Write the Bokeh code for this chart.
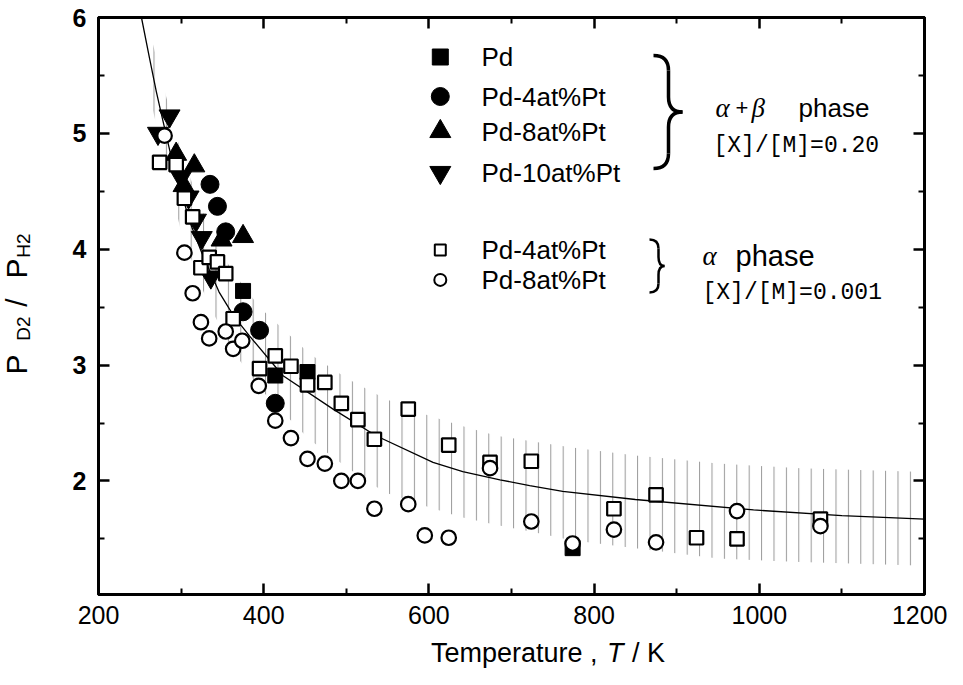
from math import pi
from bokeh.plotting import figure
from bokeh.models import Range1d, LinearAxis, FixedTicker, Label
from bokeh.layouts import row, column
from bokeh.embed import file_html
from bokeh.resources import INLINE

# ---------------- data ----------------
# alpha+beta phase, [X]/[M]=0.20 (filled symbols)
T_pd = [375, 414, 453, 774]
P_pd = [3.64, 2.91, 2.94, 1.42]

T_pd4 = [335, 344, 354, 375, 395, 414]
P_pd4 = [4.56, 4.37, 4.15, 3.46, 3.30, 2.67]

T_pd8 = [294, 303, 316, 349, 375]
P_pd8 = [4.82, 4.55, 4.72, 4.08, 4.11]

T_pd10 = [272, 286, 300, 309, 318, 325, 336]
P_pd10 = [5.00, 5.15, 4.62, 4.45, 4.25, 4.10, 3.76]

# alpha phase, [X]/[M]=0.001 (open symbols)
T_a4 = [274, 294, 304, 314, 324, 334, 344, 354, 363, 395, 414, 433, 453, 474,
        494, 514, 534, 575, 624, 674, 724, 824, 875, 924, 973, 1074]
P_a4 = [4.75, 4.73, 4.44, 4.28, 3.84, 3.93, 3.89, 3.79, 3.40, 2.97, 3.08, 2.99,
        2.83, 2.85, 2.67, 2.53, 2.36, 2.62, 2.31, 2.16, 2.17, 1.76, 1.88, 1.51,
        1.50, 1.67]

T_a8 = [280, 304, 314, 324, 334, 354, 363, 374, 394, 414, 433, 453, 474, 494,
        514, 534, 575, 595, 624, 674, 724, 774, 824, 875, 973, 1074]
P_a8 = [4.98, 3.97, 3.62, 3.37, 3.23, 3.29, 3.14, 3.21, 2.82, 2.52, 2.37, 2.19,
        2.15, 2.00, 2.00, 1.76, 1.80, 1.53, 1.51, 2.11, 1.65, 1.46, 1.58, 1.47,
        1.74, 1.61]

# calculated curve
T_fit = [252, 262, 270, 276, 288, 300, 312, 325, 346, 364, 383, 423, 484, 536,
         605, 641, 686, 722, 762, 850, 993, 1100, 1200]
P_fit = [6.00, 5.64, 5.36, 5.17, 4.80, 4.49, 4.21, 3.97, 3.63, 3.42, 3.25, 2.91,
         2.62, 2.39, 2.16, 2.08, 2.01, 1.96, 1.91, 1.84, 1.75, 1.70, 1.67]

# hatched uncertainty band (upper / lower envelope)
T_band = [258, 277, 300, 330, 360, 395, 455, 502, 547, 593, 637, 682, 726, 771,
          850, 950, 1050, 1191]
P_band_hi = [6.00, 5.45, 4.83, 4.25, 3.83, 3.50, 3.10, 2.88, 2.71, 2.58, 2.48,
             2.39, 2.34, 2.29, 2.22, 2.15, 2.11, 2.08]
P_band_lo = [5.45, 4.85, 4.15, 3.58, 3.15, 2.80, 2.36, 2.11, 1.90, 1.79, 1.69,
             1.62, 1.56, 1.49, 1.42, 1.33, 1.30, 1.27]

x_ticks = [200, 400, 600, 800, 1000, 1200]
x_minor = [300, 500, 700, 900, 1100]
y_ticks = [2, 3, 4, 5, 6]
y_minor = [1.5, 2.5, 3.5, 4.5, 5.5]

legend_labels = ["Pd", "Pd-4at%Pt", "Pd-8at%Pt", "Pd-10at%Pt", "Pd-4at%Pt", "Pd-8at%Pt"]

# ---------------- layout ----------------
YW = 60                      # strip holding the y-axis title
MW, MH = 887, 634            # main figure
XH = 35                      # strip holding the x-axis title
BL, BR, BT, BB = 38, 23, 17, 40
X0, X1 = 200, 1200
Y0, Y1 = 1.02, 6.0
FL, FT = 8 + YW + BL, 8 + BT          # frame left/top on the page
FW, FH = MW - BL - BR, MH - BT - BB   # frame size


def tx(xp):
    return X0 + (xp - FL) / FW * (X1 - X0)


def ty(yp):
    return Y1 - (yp - FT) / FH * (Y1 - Y0)


p = figure(width=MW, height=MH, x_range=Range1d(X0, X1), y_range=Range1d(Y0, Y1),
           output_backend="svg", toolbar_location=None,
           min_border_left=BL, min_border_right=BR, min_border_top=BT,
           min_border_bottom=BB, background_fill_color="white",
           border_fill_color="white")
p.grid.visible = False
p.outline_line_color = "black"
p.outline_line_width = 3

p.add_layout(LinearAxis(), "right")
p.add_layout(LinearAxis(), "above")

for ax in p.xaxis:
    ax.ticker = FixedTicker(ticks=x_ticks, minor_ticks=x_minor)
for ax in p.yaxis:
    ax.ticker = FixedTicker(ticks=y_ticks, minor_ticks=y_minor)

for ax in p.axis:
    ax.axis_line_width = 3
    ax.axis_line_color = "black"
    ax.major_tick_in = 11
    ax.major_tick_out = 0
    ax.minor_tick_in = 6
    ax.minor_tick_out = 0
    ax.major_tick_line_width = 2.5
    ax.minor_tick_line_width = 2
    ax.major_tick_line_color = "black"
    ax.minor_tick_line_color = "black"
    ax.major_label_text_color = "black"

p.right[0].major_label_overrides = {t: "" for t in y_ticks}
p.above[0].major_label_overrides = {t: "" for t in x_ticks}

p.below[0].major_label_text_font = "Liberation Sans"
p.below[0].major_label_text_font_size = "25px"
p.below[0].major_label_standoff = 11
p.left[0].major_label_text_font = "Liberation Sans"
p.left[0].major_label_text_font_size = "25px"
p.left[0].major_label_text_font_style = "bold"
p.left[0].major_label_standoff = 12

# hatched band
p.varea(x=T_band, y1=P_band_lo, y2=P_band_hi, fill_alpha=0,
        hatch_pattern="vertical_line", hatch_color="#999999",
        hatch_weight=1, hatch_scale=12.4)

# curve
p.line(T_fit, P_fit, line_color="black", line_width=1.3)

# filled symbols
p.scatter(T_pd, P_pd, marker="square", size=15, color="black")
p.scatter(T_pd4, P_pd4, marker="circle", size=18, color="black")
p.scatter(T_pd8, P_pd8, marker="triangle", size=21, color="black")
p.scatter(T_pd10, P_pd10, marker="inverted_triangle", size=21, color="black")
# open symbols
p.scatter(T_a4, P_a4, marker="square", size=13.5, fill_color="white",
          line_color="black", line_width=2.2)
p.scatter(T_a8, P_a8, marker="circle", size=14.5, fill_color="white",
          line_color="black", line_width=2.2)

# ---------------- legend ----------------
rows = [64.5, 104, 139, 180, 257.4, 287.4]
mx, txx = 447.8, 489
leg_styles = [
    dict(marker="square", size=16, color="black"),
    dict(marker="circle", size=18, color="black"),
    dict(marker="triangle", size=21, color="black"),
    dict(marker="inverted_triangle", size=21, color="black"),
    dict(marker="square", size=11, fill_color="white", line_color="black", line_width=2),
    dict(marker="circle", size=12, fill_color="white", line_color="black", line_width=2),
]
for r, st, lab_text in zip(rows, leg_styles, legend_labels):
    p.scatter([tx(mx)], [ty(r)], **st)
    p.add_layout(Label(x=tx(txx), y=ty(r), text=lab_text, text_font="Liberation Sans",
                       text_font_size="26px", text_baseline="middle",
                       text_align="left", text_color="black"))


def lab(fig, x, y, text, font="Liberation Sans", size="26px", style="normal",
        align="left", baseline="alphabetic", angle=0):
    fig.add_layout(Label(x=x, y=y, text=text, text_font=font,
                         text_font_size=size, text_font_style=style,
                         text_align=align, text_baseline=baseline, angle=angle,
                         text_color="black"))


def plab(xp, yp, text, **kw):
    lab(p, tx(xp), ty(yp), text, **kw)


# phase annotations
plab(723, 115, "α", font="Liberation Serif", size="27px", style="italic")
plab(743, 115, "+", size="22px")
plab(759, 115, "β", font="Liberation Serif", size="27px", style="italic")
plab(806, 115, "phase", size="26px")
plab(721, 153, "[X]/[M]=0.20", font="Liberation Mono", size="23px")
plab(710, 263, "α", font="Liberation Serif", size="27px", style="italic")
plab(743, 263, "phase", size="29px")
plab(710, 300, "[X]/[M]=0.001", font="Liberation Mono", size="23px")


# braces
def brace(xl, xs, xt, yt, yb, r, lw):
    ym = (yt + yb) / 2
    x0 = [xl, xs, xt, xs]
    y0 = [yt, ym - r, ym, yb - r]
    x1 = [xs, xt, xs, xl]
    y1 = [yt + r, ym, ym + r, yb]
    cx = [xs, xs, xs, xs]
    cy = [yt, ym, ym, yb]
    p.quadratic(x0=[tx(v) for v in x0], y0=[ty(v) for v in y0],
                x1=[tx(v) for v in x1], y1=[ty(v) for v in y1],
                cx=[tx(v) for v in cx], cy=[ty(v) for v in cy],
                line_color="black", line_width=lw)
    p.segment(x0=[tx(xs), tx(xs)], y0=[ty(yt + r), ty(ym + r)],
              x1=[tx(xs), tx(xs)], y1=[ty(ym - r), ty(yb - r)],
              line_color="black", line_width=lw)


brace(661, 676, 690, 63, 176, 15, 3.5)
brace(657, 666, 672, 247, 300, 9, 2.5)


# ---------------- title strips ----------------
def strip(w, h):
    f = figure(width=w, height=h, x_range=Range1d(0, w), y_range=Range1d(h, 0),
               output_backend="svg", toolbar_location=None, min_border=0,
               x_axis_type=None, y_axis_type=None, background_fill_color="white",
               border_fill_color="white")
    f.outline_line_color = None
    f.grid.visible = False
    return f


fy = strip(YW, MH + XH)   # page x 8..68, y 8..677
fx = strip(MW, XH)        # page x 68..955, y 642..677


def ylab(xp, yp, text, **kw):
    lab(fy, xp - 8, yp - 8, text, **kw)


def xlab(xp, yp, text, **kw):
    lab(fx, xp - 8 - YW, yp - 8 - MH, text, **kw)


# y-axis title: P_D2 / P_H2 (rotated)
ylab(24, 372, "P", size="30px", align="center", baseline="middle", angle=pi / 2)
ylab(31, 336, "D2", size="19px", align="center", baseline="middle", angle=pi / 2)
ylab(24, 310, "/", size="30px", align="center", baseline="middle", angle=pi / 2)
ylab(24, 276, "P", size="30px", align="center", baseline="middle", angle=pi / 2)
ylab(31, 253, "H2", size="19px", align="center", baseline="middle", angle=pi / 2)

# x-axis title (kept fully inside its strip)
xlab(425, 660, "Temperature ,", size="27px", baseline="middle")
xlab(614, 660, "T", size="27px", style="italic", baseline="middle")
xlab(641, 660, "/ K", size="27px", baseline="middle")

layout = row(fy, column(p, fx))
open("out.html", "w").write(file_html(layout, INLINE))
